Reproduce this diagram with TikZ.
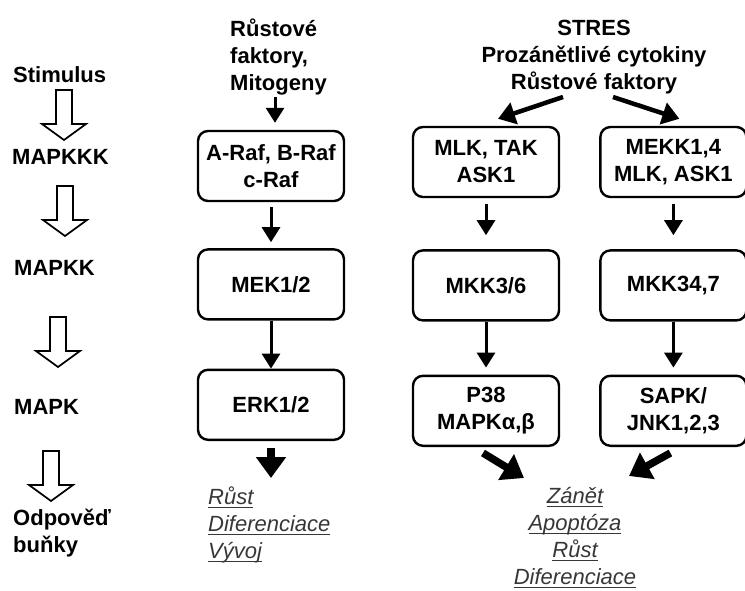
\documentclass[tikz,border=0pt]{standalone}
\usepackage{fontspec}
\setmainfont{Liberation Sans}
\usetikzlibrary{arrows.meta,positioning,calc}

\definecolor{outgray}{RGB}{55,55,55}
\newcommand{\diagfont}{\fontsize{22}{27}\selectfont}
\newcommand{\undl}[1]{\setbox0\hbox{#1}\rlap{\vrule width\wd0 height -2.4pt depth 3.6pt}\box0}

\tikzset{
  kinase/.style={draw, line width=2.4pt, rounded corners=10pt, minimum width=146pt,
                 minimum height=70pt, align=center, inner sep=2pt, font=\diagfont\bfseries},
  level/.style={anchor=west, inner sep=0pt, align=left, font=\diagfont\bfseries},
  arr/.style={-{Triangle[width=18pt,length=15pt]}, line width=3pt},
  fat/.style={-{Triangle[width=29pt,length=21pt]}, line width=7.5pt},
  tilt/.style={-{Triangle[width=22pt,length=17pt]}, line width=4.5pt},
  outcome/.style={inner sep=0pt, text=outgray, font=\diagfont\itshape},
  hollow/.pic={\draw[line width=1.7pt, fill=white] (-8,0) -- (-8,34) -- (-22,34) -- (0,50)
                 -- (22,34) -- (8,34) -- (8,0) -- cycle;}
}

\begin{document}
\begin{tikzpicture}[x=1pt,y=-1pt]
  \useasboundingbox (0,0) rectangle (745,591);

  % levels of the cascade
  \node[level] (stim)  at (13,75)  {Stimulus};
  \node[level] (mkkk)  at (12,157) {MAPKKK};
  \node[level] (mkk)   at (14,268) {MAPKK};
  \node[level] (mk)    at (14,407) {MAPK};
  \node[level] (resp)  at (13,533) {Odpověď\\buňky};

  \pic at (64,90)  {hollow};
  \pic at (65,186) {hollow};
  \pic at (58,317) {hollow};
  \pic at (51,451) {hollow};

  % ERK pathway
  \node[level] (mito) at (230,57) {Růstové\\faktory,\\Mitogeny};
  \node[kinase] (araf) at (271,166) {A-Raf, B-Raf\\c-Raf};
  \node[kinase] (mek)  [below=46pt of araf] {MEK1/2};
  \node[kinase] (erk)  [below=48pt of mek]  {ERK1/2};
  \node[outcome, align=left, anchor=west] (grow) at (208,525)
        {\undl{Růst}\\\undl{Diferenciace}\\\undl{Vývoj}};

  % stress pathways
  \node[align=center, inner sep=0pt, font=\diagfont\bfseries] (stres) at (594,57)
        {STRES\\Prozánětlivé cytokiny\\Růstové faktory};
  \node[kinase] (mlk)   at (486,162) {MLK, TAK\\ASK1};
  \node[kinase] (mekk)  [right=39pt of mlk]   {MEKK1,4\\MLK, ASK1};
  \node[kinase] (mkk36) [below=51pt of mlk]   {MKK3/6};
  \node[kinase] (mkk47) [below=51pt of mekk]  {MKK34,7};
  \node[kinase] (p38)   [below=53pt of mkk36] {P38\\MAPKα,β};
  \node[kinase] (sapk)  [below=53pt of mkk47] {SAPK/\\JNK1,2,3};
  \node[outcome, align=center] (fate) at (575,538)
        {\undl{Zánět}\\\undl{Apoptóza}\\\undl{Růst}\\\undl{Diferenciace}};

  \coordinate (m0) at (275,97);
  \coordinate (e1) at (275,478);
  \coordinate (s1) at (563,97);
  \coordinate (s2) at (613,97);
  \coordinate (z1) at (524,478);
  \coordinate (z2) at (629,476);

  \draw[arr, shorten >=7pt] (m0) -- (m0 |- araf.north);
  \draw[arr, shorten <=5pt, shorten >=6pt] (araf.south) -- (mek.north);
  \draw[arr] (mek.south) -- (erk.north);
  \draw[fat, shorten <=7pt] (erk.south) -- (erk.south |- e1);

  \draw[tilt] (s1) -- ($(mlk.north)+(12,-7)$);
  \draw[tilt] (s2) -- ($(mekk.north)+(6,-7)$);
  \draw[arr, shorten <=6pt, shorten >=14pt] (mlk.south) -- (mkk36.north);
  \draw[arr, shorten <=6pt, shorten >=14pt] (mekk.south) -- (mkk47.north);
  \draw[arr, shorten >=7pt] (mkk36.south) -- (p38.north);
  \draw[arr, shorten >=7pt] (mkk47.south) -- (sapk.north);
  \draw[fat] ($(p38.south)+(-3,6)$) -- (z1);
  \draw[fat] ($(sapk.south)+(-3,6)$) -- (z2);
\end{tikzpicture}
\end{document}
